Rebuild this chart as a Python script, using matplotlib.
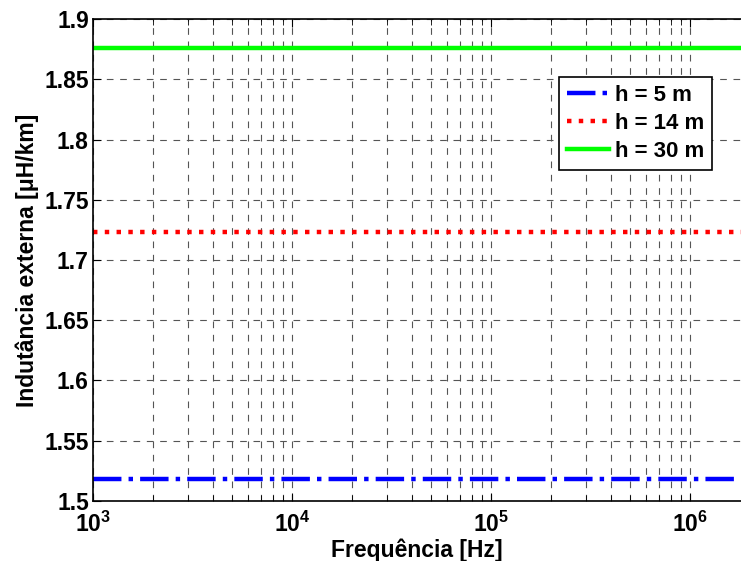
import math
import matplotlib
matplotlib.use("Agg")
import matplotlib.pyplot as plt
from matplotlib.ticker import LogLocator, MultipleLocator, FuncFormatter

plt.rcParams['font.family'] = ['Liberation Sans', 'DejaVu Sans']
plt.rcParams['font.weight'] = 'bold'
plt.rcParams['mathtext.fontset'] = 'custom'
plt.rcParams['mathtext.rm'] = 'Liberation Sans:bold'
plt.rcParams['mathtext.bf'] = 'Liberation Sans:bold'
plt.rcParams['mathtext.default'] = 'bf'

# frequency range and constant inductance values
freq = [1e3, 2e6]
labels = ['h = 5 m', 'h = 14 m', 'h = 30 m']
L_ext = [1.518, 1.723, 1.876]
colors = ['#0000ff', '#ff0000', '#00ff00']
styles = ['-.', ':', '-']

fig = plt.figure(figsize=(7.41, 5.61), dpi=100)
ax = fig.add_axes([0.1255, 0.107, 0.8745, 0.859])

for val, lab, c, ls in zip(L_ext, labels, colors, styles):
    ax.semilogx(freq, [val, val], color=c, linestyle=ls, linewidth=3.2, label=lab)

ax.set_xlim(1e3, 1.8e6)
ax.set_ylim(1.5, 1.9)
ax.yaxis.set_major_locator(MultipleLocator(0.05))
ax.yaxis.set_major_formatter(FuncFormatter(lambda v, p: ('%.2f' % v).rstrip('0').rstrip('.')))
ax.xaxis.set_major_locator(LogLocator(base=10))
ax.xaxis.set_minor_locator(LogLocator(base=10, subs=range(2, 10)))
ax.xaxis.set_major_formatter(FuncFormatter(lambda v, p: r'$10^{%d}$' % round(math.log10(v))))

ax.grid(True, which='major', linestyle=(0, (6, 6)), color='#555555', linewidth=0.8)
ax.grid(True, which='minor', axis='x', linestyle=(0, (6, 6)), color='#555555', linewidth=0.8)
ax.tick_params(which='both', direction='in', top=True, right=False, labelsize=16.5)
ax.tick_params(axis='y', pad=3)
ax.tick_params(axis='x', pad=8)
ax.tick_params(which='major', length=6)
ax.tick_params(which='minor', length=4)
for s in ['left', 'bottom', 'top']:
    ax.spines[s].set_linewidth(1.2)
ax.spines['right'].set_visible(False)

ax.set_xlabel('Frequência [Hz]', fontsize=16.5, fontweight='bold')
ax.xaxis.set_label_coords(0.5, -0.077)
ax.set_ylabel('Indutância externa [μH/km]', fontsize=16.5, fontweight='bold', labelpad=4)

leg = ax.legend(loc='upper right', bbox_to_anchor=(0.956, 0.88), fontsize=16,
                frameon=True, fancybox=False, edgecolor='black', framealpha=1,
                handlelength=1.9, borderpad=0.35, labelspacing=0.32, handletextpad=0.3,
                borderaxespad=0)
leg.get_frame().set_linewidth(1.2)

fig.savefig('out.png', dpi=100)
